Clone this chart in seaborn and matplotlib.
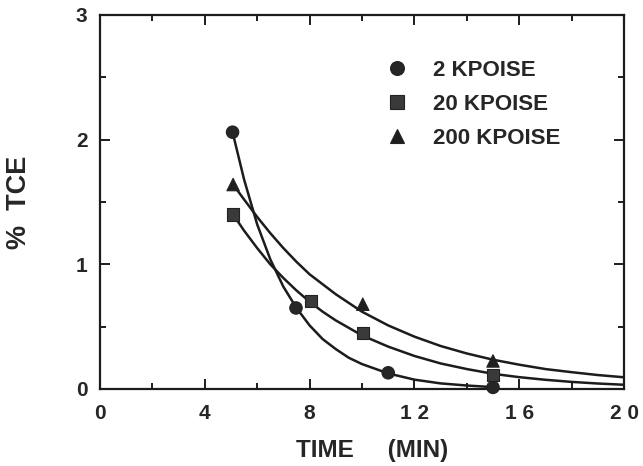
import numpy as np
import pandas as pd
import seaborn as sns
import matplotlib.pyplot as plt
from matplotlib.ticker import MultipleLocator

# measured points (time in min, % TCE)
t_2k = [5.06, 7.48, 11.0, 15.0]
tce_2k = [2.06, 0.65, 0.13, 0.013]
t_20k = [5.08, 8.05, 10.03, 15.0]
tce_20k = [1.40, 0.706, 0.447, 0.112]
t_200k = [5.08, 10.03, 15.0]
tce_200k = [1.64, 0.68, 0.225]

# fitted curves
fit_t_2k = [5.06, 5.5, 6, 6.5, 7, 7.5, 8, 8.5, 9, 9.5, 10, 11, 12, 13, 14, 15]
fit_2k = [2.06, 1.68, 1.32, 1.04, 0.82, 0.65, 0.51, 0.40, 0.32, 0.25, 0.20,
          0.125, 0.075, 0.045, 0.028, 0.015]
fit_t = [5.08, 5.5, 6, 6.5, 7, 7.5, 8, 8.5, 9, 9.5, 10, 11, 12, 13, 14, 15,
         16, 17, 18, 19, 20]
fit_20k = [1.40, 1.27, 1.13, 1.00, 0.89, 0.79, 0.70, 0.62, 0.55, 0.49, 0.43,
           0.34, 0.265, 0.205, 0.16, 0.122, 0.095, 0.074, 0.057, 0.044, 0.034]
fit_200k = [1.64, 1.52, 1.38, 1.25, 1.13, 1.02, 0.92, 0.84, 0.76, 0.69, 0.62,
            0.51, 0.42, 0.345, 0.285, 0.235, 0.195, 0.16, 0.135, 0.112, 0.094]

labels = ["2 KPOISE", "20 KPOISE", "200 KPOISE"]
xtick_labels = ["0", "4", "8", "1 2", "1 6", "2 0"]

sns.set_style("ticks")
plt.rcParams['font.family'] = ['Liberation Sans', 'DejaVu Sans']
plt.rcParams['font.weight'] = 'bold'

fig = plt.figure(figsize=(6.43, 4.66), dpi=100)
ax = fig.add_axes([100/643, 1-389/466, 524/643, 374/466])

ink = '#1c1c1c'
for tt, yy in [(fit_t_2k, fit_2k), (fit_t, fit_20k), (fit_t, fit_200k)]:
    sns.lineplot(x=tt, y=yy, ax=ax, color=ink, lw=1.8, sort=False,
                 estimator=None)

pts = pd.concat([
    pd.DataFrame({'t': t_2k, 'tce': tce_2k, 'visc': labels[0]}),
    pd.DataFrame({'t': t_20k, 'tce': tce_20k, 'visc': labels[1]}),
    pd.DataFrame({'t': t_200k, 'tce': tce_200k, 'visc': labels[2]}),
])
sns.scatterplot(data=pts, x='t', y='tce', style='visc', hue='visc',
                markers={labels[0]: 'o', labels[1]: 's', labels[2]: '^'},
                palette={labels[0]: '#262626', labels[1]: '#3a3a3a', labels[2]: '#1e1e1e'},
                s=80, edgecolor='#222222', linewidth=0.8, ax=ax, clip_on=False,
                zorder=5)

ax.set_xlim(0, 20)
ax.set_ylim(0, 3)
ax.xaxis.set_major_locator(MultipleLocator(4))
ax.xaxis.set_minor_locator(MultipleLocator(2))
ax.yaxis.set_major_locator(MultipleLocator(1))
ax.yaxis.set_minor_locator(MultipleLocator(0.5))
ax.set_xticks([0, 4, 8, 12, 16, 20])
ax.set_xticklabels(xtick_labels)
ax.tick_params(which='both', direction='in', top=True, right=True,
               width=1.4, color=ink)
ax.tick_params(which='major', length=7)
ax.tick_params(which='minor', length=4.5)
ax.tick_params(axis='x', labelsize=15, pad=11)
ax.tick_params(axis='y', labelsize=15, pad=9)
for sp in ax.spines.values():
    sp.set_visible(True)
    sp.set_linewidth(1.6)
    sp.set_color(ink)

ax.set_xlabel("TIME     (MIN)", fontsize=17.5, fontweight='bold')
ax.xaxis.set_label_coords(0.52, -0.133)
ax.set_ylabel("%  TCE", fontsize=19.5, fontweight='bold')
ax.yaxis.set_label_coords(-0.13, 0.5)

h, l = ax.get_legend_handles_labels()
for hh in h:
    hh.set_markersize(10)
ax.legend(h, l, loc='upper left', bbox_to_anchor=(386/643, 1-60/466),
          bbox_transform=fig.transFigure, frameon=False,
          handlelength=1.0, handletextpad=1.1, labelspacing=0.58,
          borderpad=0, borderaxespad=0, prop={'weight': 'bold', 'size': 16})

fig.savefig("out.png", dpi=100)
